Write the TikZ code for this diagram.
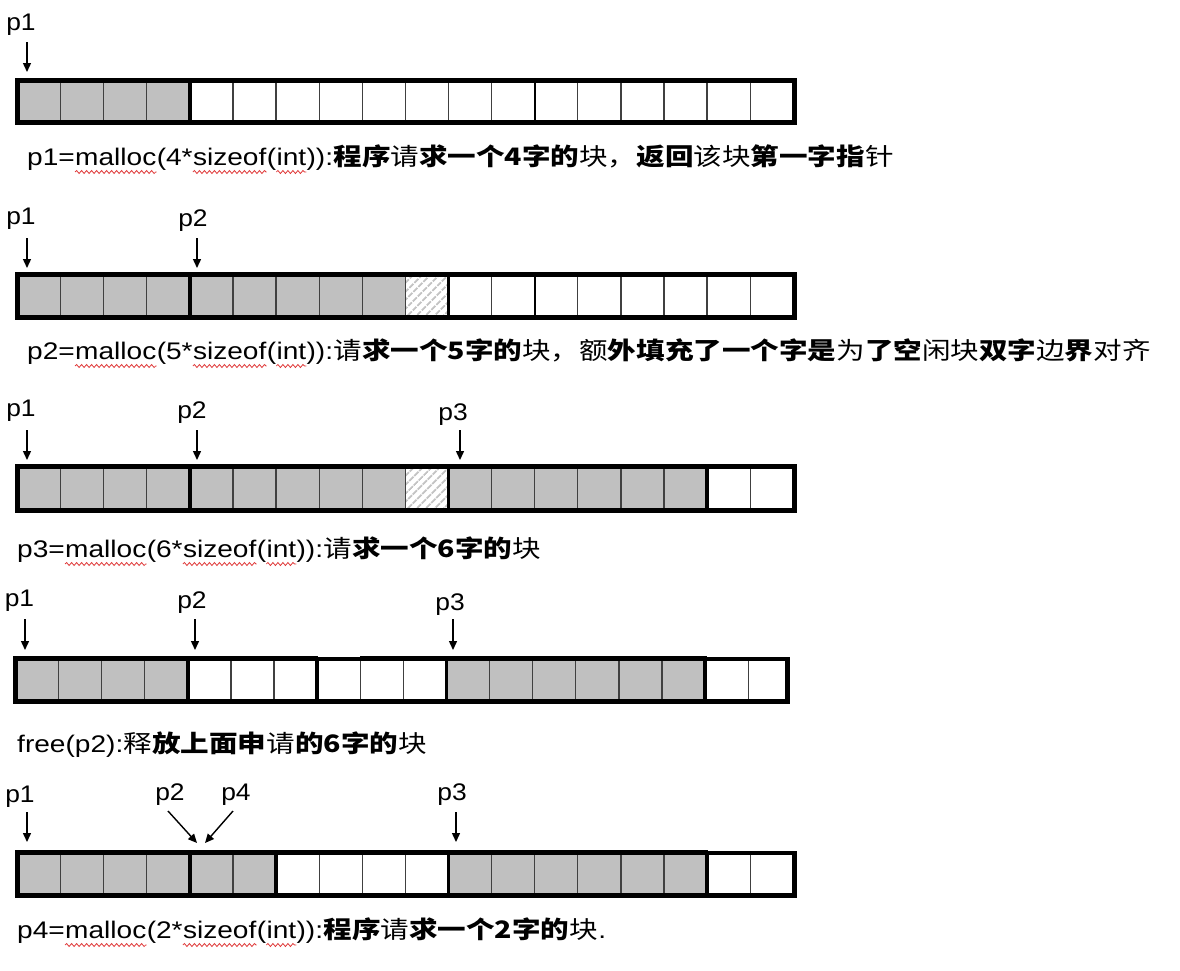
\documentclass[tikz,border=0pt]{standalone}
\usepackage{fontspec}
\setmainfont{Liberation Sans}
\newfontfamily\latf[FakeStretch=1.17]{Liberation Sans}
\newfontfamily\cjkf[FakeStretch=1.19]{Noto Sans CJK SC}
\newfontfamily\labf[FakeStretch=1.1]{Liberation Sans}
\usetikzlibrary{arrows.meta,patterns.meta,decorations.pathmorphing}
\definecolor{cellgray}{HTML}{C0C0C0}
\definecolor{hatchgray}{HTML}{C4C4C4}
\definecolor{squigred}{HTML}{E03A3A}
\tikzset{
  lbl/.style={anchor=base, inner sep=0pt, font=\labf\fontsize{24}{28}\selectfont},
  txt/.style={anchor=base west, inner sep=0pt, font=\latf\fontsize{24}{28}\selectfont},
  cjt/.style={anchor=base west, inner sep=0pt, font=\cjkf\fontsize{24}{28}\selectfont},
  ptr/.style={line width=1.4pt, -{Triangle[length=9pt,width=8pt]}},
  squig/.style={draw=squigred, line width=0.8pt, decorate,
    decoration={snake, amplitude=1.5pt, segment length=5pt}},
  border/.style={line width=5pt},
  cellline/.style={line width=1.3pt, draw=black!75},
  blockline/.style={line width=3.5pt},
  midline/.style={line width=2.3pt},
  hatchcell/.style={fill=white, pattern={Lines[angle=45,distance=6.5pt,line width=2.2pt]}, pattern color=hatchgray},
}
% #1 left, #2 pitch, #3 right, #4 top, #5 bottom, #6 gray cells, #7 thick boundaries
\newcommand\membar[7]{%
  \foreach \i in {#6}{\fill[cellgray] ({#1+\i*#2},#4) rectangle ({#1+(\i+1)*#2},#5);}
  \foreach \i in {1,...,17}{\draw[cellline] ({#1+\i*#2},#4) -- ({#1+\i*#2},#5);}
  \foreach \i in {#7}{\draw[blockline] ({#1+\i*#2},#4) -- ({#1+\i*#2},#5);}
  \draw[border] (#1,#4) rectangle (#3,#5);
}
\begin{document}
\begin{tikzpicture}[x=1pt,y=-1pt]
\useasboundingbox[fill=white] (0,0) rectangle (1180,970);

% ---------- Row 1 ----------
\node[lbl] (r1p1) at (21,30) {p1};
\coordinate (r1a1s) at (27,42); \coordinate (r1a1e) at (27,72);
\draw[ptr] (r1a1s) -- (r1a1e);
\membar{17.5}{43.1}{794.5}{80.3}{122.7}{0,1,2,3}{4}
\draw[midline] ({17.5+12*43.1},80.3) -- ({17.5+12*43.1},122.7);
\node[txt] (t1a) at (27,165) {p1=};
\node[txt] (t1b) at (t1a.base east) {malloc};
\node[txt] (t1c) at (t1b.base east) {(4*};
\node[txt] (t1d) at (t1c.base east) {sizeof};
\node[txt] (t1e) at (t1d.base east) {(};
\node[txt] (t1f) at (t1e.base east) {int};
\node[txt] (t1g) at (t1f.base east) {)):};
\node[cjt] (t1h) at (t1g.base east) {\textbf{程序}请\textbf{求一个4字的}块，\textbf{返回}该块\textbf{第一字指}针};
\draw[squig] ([yshift=-7pt]t1b.base west) -- ([yshift=-7pt]t1b.base east);
\draw[squig] ([yshift=-7pt]t1d.base west) -- ([yshift=-7pt]t1d.base east);
\draw[squig] ([yshift=-7pt]t1f.base west) -- ([yshift=-7pt]t1f.base east);

% ---------- Row 2 ----------
\node[lbl] (r2p1) at (21,224) {p1};
\node[lbl] (r2p2) at (193,226) {p2};
\coordinate (r2a1s) at (27,238); \coordinate (r2a1e) at (27,268);
\coordinate (r2a2s) at (197,238); \coordinate (r2a2e) at (197,268);
\draw[ptr] (r2a1s) -- (r2a1e);
\draw[ptr] (r2a2s) -- (r2a2e);
\path[hatchcell] ({17.5+9*43.1},274.5) rectangle ({17.5+10*43.1},317.5);
\membar{17.5}{43.1}{794.5}{274.5}{317.5}{0,1,2,3,4,5,6,7,8}{4,10}
\draw[midline] ({17.5+12*43.1},274.5) -- ({17.5+12*43.1},317.5);
\node[txt] (t2a) at (27,359) {p2=};
\node[txt] (t2b) at (t2a.base east) {malloc};
\node[txt] (t2c) at (t2b.base east) {(5*};
\node[txt] (t2d) at (t2c.base east) {sizeof};
\node[txt] (t2e) at (t2d.base east) {(};
\node[txt] (t2f) at (t2e.base east) {int};
\node[txt] (t2g) at (t2f.base east) {)):};
\node[cjt] (t2h) at (t2g.base east) {请\textbf{求一个5字的}块，额\textbf{外填充了一个字是}为\textbf{了空}闲块\textbf{双字}边\textbf{界}对齐};
\draw[squig] ([yshift=-7pt]t2b.base west) -- ([yshift=-7pt]t2b.base east);
\draw[squig] ([yshift=-7pt]t2d.base west) -- ([yshift=-7pt]t2d.base east);
\draw[squig] ([yshift=-7pt]t2f.base west) -- ([yshift=-7pt]t2f.base east);

% ---------- Row 3 ----------
\node[lbl] (r3p1) at (21,416) {p1};
\node[lbl] (r3p2) at (192,418) {p2};
\node[lbl] (r3p3) at (453,420) {p3};
\coordinate (r3a1s) at (27,430); \coordinate (r3a1e) at (27,460);
\coordinate (r3a2s) at (197,430); \coordinate (r3a2e) at (197,460);
\coordinate (r3a3s) at (460,430); \coordinate (r3a3e) at (460,460);
\draw[ptr] (r3a1s) -- (r3a1e);
\draw[ptr] (r3a2s) -- (r3a2e);
\draw[ptr] (r3a3s) -- (r3a3e);
\path[hatchcell] ({17.5+9*43.1},466.5) rectangle ({17.5+10*43.1},510.5);
\membar{17.5}{43.1}{794.5}{466.5}{510.5}{0,1,2,3,4,5,6,7,8,10,11,12,13,14,15}{4,10,16}
\node[txt] (t3a) at (17,557) {p3=};
\node[txt] (t3b) at (t3a.base east) {malloc};
\node[txt] (t3c) at (t3b.base east) {(6*};
\node[txt] (t3d) at (t3c.base east) {sizeof};
\node[txt] (t3e) at (t3d.base east) {(};
\node[txt] (t3f) at (t3e.base east) {int};
\node[txt] (t3g) at (t3f.base east) {)):};
\node[cjt] (t3h) at (t3g.base east) {请\textbf{求一个6字的}块};
\draw[squig] ([yshift=-7pt]t3b.base west) -- ([yshift=-7pt]t3b.base east);
\draw[squig] ([yshift=-7pt]t3d.base west) -- ([yshift=-7pt]t3d.base east);
\draw[squig] ([yshift=-7pt]t3f.base west) -- ([yshift=-7pt]t3f.base east);

% ---------- Row 4 ----------
\node[lbl] (r4p1) at (19.5,606) {p1};
\node[lbl] (r4p2) at (192,608) {p2};
\node[lbl] (r4p3) at (450,610) {p3};
\coordinate (r4a1s) at (25,619); \coordinate (r4a1e) at (25,650);
\coordinate (r4a2s) at (195,619); \coordinate (r4a2e) at (195,650);
\coordinate (r4a3s) at (453,619); \coordinate (r4a3e) at (453,650);
\draw[ptr] (r4a1s) -- (r4a1e);
\draw[ptr] (r4a2s) -- (r4a2e);
\draw[ptr] (r4a3s) -- (r4a3e);
\membar{15.5}{43.1}{787.5}{658.5}{701.5}{0,1,2,3,10,11,12,13,14,15}{4,7,10,16}
\fill[white] (318,655.6) rectangle (360,657);
\fill[white] (707,655.6) rectangle (790.5,657);
\node[txt] (t4a) at (17,752) {free(p2):};
\node[cjt] (t4b) at (t4a.base east) {释\textbf{放上面申}请\textbf{的6字的}块};

% ---------- Row 5 ----------
\node[lbl] (r5p1) at (20,802) {p1};
\node[lbl] (r5p2) at (170,800) {p2};
\node[lbl] (r5p4) at (236,800) {p4};
\node[lbl] (r5p3) at (452,800) {p3};
\coordinate (r5a1s) at (27,812); \coordinate (r5a1e) at (27,842);
\coordinate (r5a2s) at (168,811); \coordinate (r5a2e) at (197,843);
\coordinate (r5a4s) at (233,811); \coordinate (r5a4e) at (205,843);
\coordinate (r5a3s) at (456,812); \coordinate (r5a3e) at (456,842);
\draw[ptr] (r5a1s) -- (r5a1e);
\draw[ptr] (r5a2s) -- (r5a2e);
\draw[ptr] (r5a4s) -- (r5a4e);
\draw[ptr] (r5a3s) -- (r5a3e);
\membar{17.5}{43.1}{794.5}{852.5}{895.5}{0,1,2,3,4,5,10,11,12,13,14,15}{4,6,10,16}
\fill[white] (708,849.6) rectangle (797.5,851);
\node[txt] (t5a) at (17,938) {p4=};
\node[txt] (t5b) at (t5a.base east) {malloc};
\node[txt] (t5c) at (t5b.base east) {(2*};
\node[txt] (t5d) at (t5c.base east) {sizeof};
\node[txt] (t5e) at (t5d.base east) {(};
\node[txt] (t5f) at (t5e.base east) {int};
\node[txt] (t5g) at (t5f.base east) {)):};
\node[cjt] (t5h) at (t5g.base east) {\textbf{程序}请\textbf{求一个2字的}块};
\node[txt] (t5i) at (t5h.base east) {.};
\draw[squig] ([yshift=-7pt]t5b.base west) -- ([yshift=-7pt]t5b.base east);
\draw[squig] ([yshift=-7pt]t5d.base west) -- ([yshift=-7pt]t5d.base east);
\draw[squig] ([yshift=-7pt]t5f.base west) -- ([yshift=-7pt]t5f.base east);
\end{tikzpicture}
\end{document}
